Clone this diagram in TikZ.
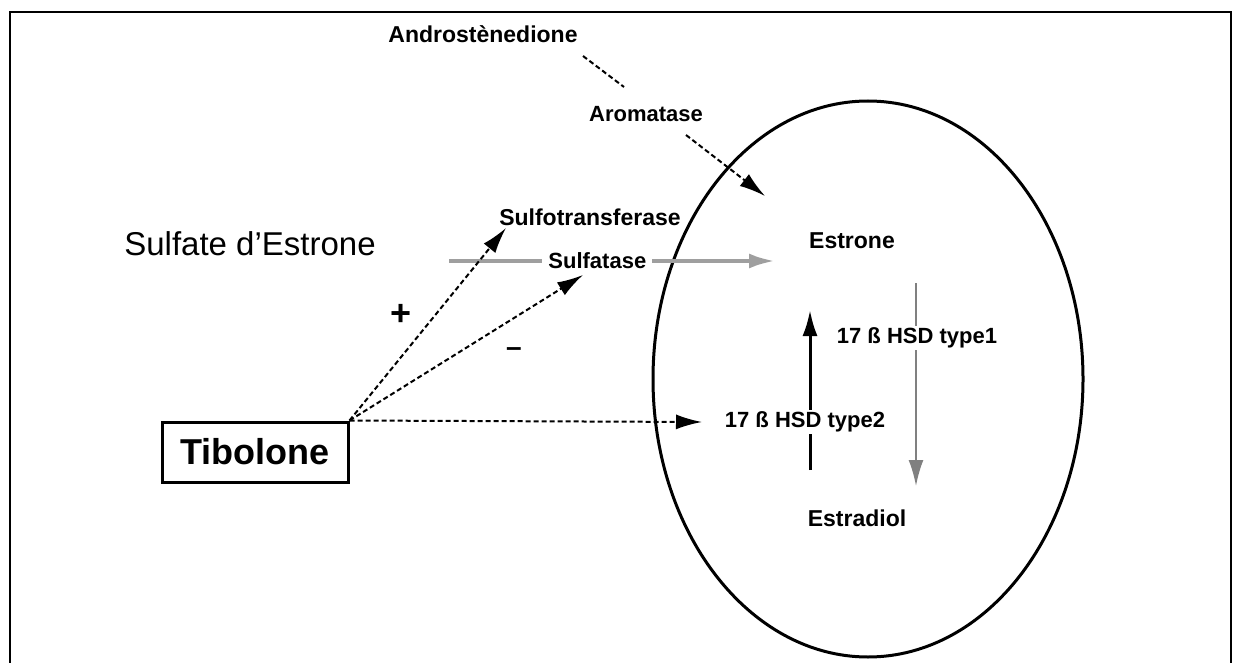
\documentclass[tikz,border=0pt]{standalone}
\usepackage{fontspec}
\setmainfont{Liberation Sans}
\usetikzlibrary{arrows.meta,shapes.geometric}
\tikzset{
  lbl/.style={font=\fontsize{22}{24}\selectfont\bfseries, inner sep=2pt, text=black},
  lblw/.style={lbl, fill=white, inner xsep=6pt},
  tip/.style={-{Latex[length=26pt,width=15pt]}},
  dsh/.style={dash pattern=on 5pt off 3pt, line width=2pt},
}
\begin{document}
\begin{tikzpicture}[x=1pt,y=-1pt]
\useasboundingbox (0,0) rectangle (1239,663);
% frame
\draw[line width=2.5pt] (10,680) -- (10,12) -- (1231,12) -- (1231,680);
% ellipse
\node[draw, line width=3pt, ellipse, minimum width=430pt, minimum height=556pt, inner sep=0pt] (cell) at (868,379) {};
% texts
\node[lbl, font=\fontsize{23}{25}\selectfont\bfseries] (andro) at (483,34) {Androstènedione};
\node[lbl] (aroma) at (646,114) {Aromatase};
\node[lbl, font=\fontsize{23}{25}\selectfont\bfseries] (sulfot) at (590,217) {Sulfotransferase};
\node[font=\fontsize{33}{36}\selectfont, inner sep=2pt] (se) at (250,244) {Sulfate d'Estrone};
\node[lbl, font=\fontsize{23}{25}\selectfont\bfseries] (estrone) at (852,241) {Estrone};
\node[lbl, font=\fontsize{23}{25}\selectfont\bfseries] (estradiol) at (857,518) {Estradiol};
\node[draw, line width=3pt, minimum width=186pt, minimum height=60pt, inner sep=0pt,
      font=\fontsize{36}{38}\selectfont\bfseries] (tib) at (255,452) {Tibolone};
\node[font=\fontsize{36}{38}\selectfont\bfseries] (plus) at (401,315) {+};
\node[font=\fontsize{28}{30}\selectfont\bfseries] (minus) at (514,352) {–};
% coordinates
\coordinate (a1) at (583,56);
\coordinate (a2) at (624,87);
\coordinate (r1) at (686,135);
\coordinate (r2) at (765,196);
\coordinate (s1) at (449,261);
\coordinate (s2) at (775,261);
\coordinate (t1) at (506,228);
\coordinate (t2) at (583,275);
\coordinate (h2) at (702,422);
\coordinate (u1) at (810,470);
\coordinate (u2) at (810,310);
\coordinate (d1) at (916,283);
\coordinate (d2) at (916,486);
% connectors
\draw[dsh] (a1) -- (a2);
\draw[dsh, tip] (r1) -- (r2);
\draw[gray!75, line width=4pt, tip] (s1) -- (s2)
  node[pos=0.455, lblw] (sulfa) {Sulfatase};
\draw[dsh, tip] (tib.north east) -- (t1);
\draw[dsh, tip] (tib.north east) -- (t2);
\draw[dsh, tip] (tib.north east) -- (h2);
\draw[line width=3pt, tip] (u1) -- (u2)
  node[pos=0.30, lblw, xshift=-5pt] (type2) {17 ß HSD type2};
\draw[gray, line width=2pt, tip] (d1) -- (d2)
  node[pos=0.27, lblw, xshift=1pt] (type1) {17 ß HSD type1};
\end{tikzpicture}
\end{document}
